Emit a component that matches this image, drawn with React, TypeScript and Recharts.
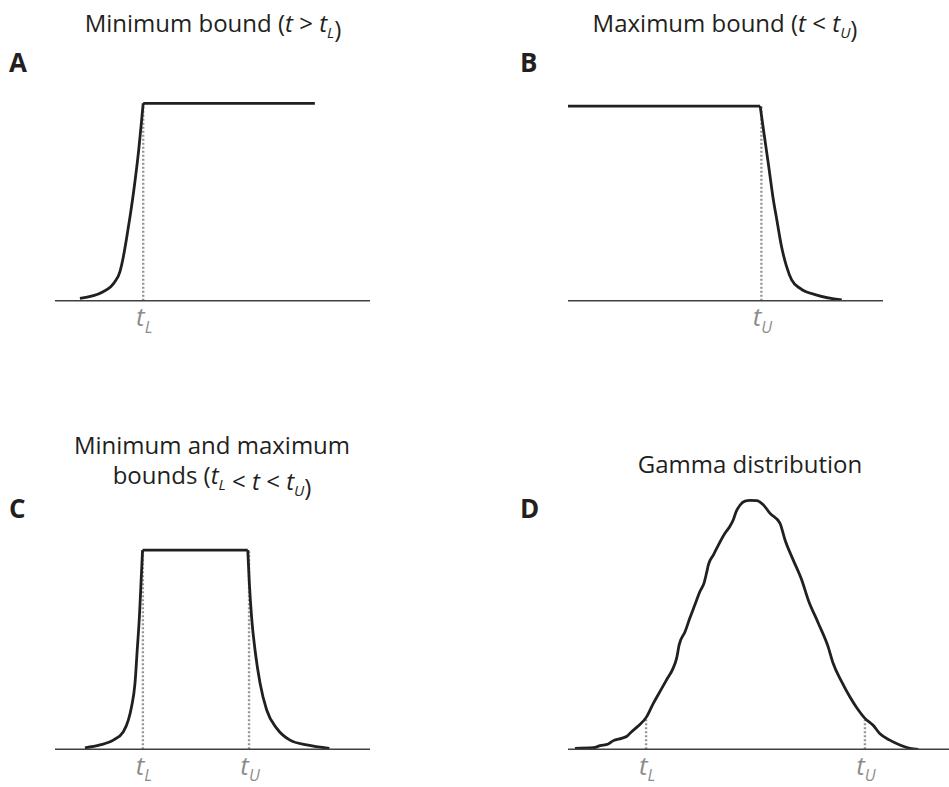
import { LineChart, Line, XAxis, YAxis } from 'recharts'

// A: minimum bound, curve rises to a plateau at t_L
const aRiseT = [7.9, 15.3, 19.0, 20.6, 21.7, 22.8, 23.9, 25.0, 26.4, 28.0]
const aRiseP = [0.9, 3.5, 7.4, 11.3, 17.2, 25.0, 33.5, 43.0, 57.0, 77.2]
const aFlatT = [28.0, 82.5]
const aFlatP = [77.2, 77.2]
const aBoundT = [28.0]
const aBoundP = [77.2]

// B: maximum bound, plateau falls off after t_U
const bFlatT = [0, 61.0]
const bFlatP = [76.1, 76.1]
const bFallT = [61.0, 62.2, 63.7, 65.2, 66.3, 67.8, 69.4, 71.0, 73.7, 79.0, 86.9]
const bFallP = [76.1, 65.6, 52.7, 39.4, 31.6, 21.1, 13.3, 8.1, 4.8, 2.2, 0.3]
const bBoundT = [61.4]
const bBoundP = [76.1]

// C: both bounds
const cRiseT = [9.5, 14.3, 18.5, 21.7, 23.3, 24.3, 25.4, 26.1, 26.8, 27.3, 27.8]
const cRiseP = [0.6, 1.7, 3.6, 6.9, 11.5, 16.7, 25.9, 38.9, 52.0, 65.0, 78.0]
const cFlatT = [27.8, 61.2]
const cFlatP = [78.0, 78.0]
const cFallT = [61.2, 61.7, 62.4, 63.5, 65.1, 67.2, 70.4, 74.6, 79.9, 87.1]
const cFallP = [78.0, 65.0, 52.0, 38.9, 25.9, 15.4, 8.2, 3.6, 1.7, 0.4]
const cBoundT = [27.9, 61.6]
const cBoundP = [78.0, 78.0]

// D: gamma distribution
const dT = [
  2.2, 8.0, 10.2, 12.8, 14.4, 17.0, 18.6, 20.2, 22.3, 25.0, 27.1, 29.2, 31.3, 33.4, 34.5,
  35.3, 37.2, 38.7, 40.3, 41.9, 43.2, 44.1, 44.6, 46.2, 47.8, 49.9, 51.4, 52.5, 53.4, 54.6,
  56.2, 57.8, 59.9, 62.0, 64.1, 67.3, 68.9, 71.5, 74.2, 76.3, 79.5, 82.6, 84.2, 86.9, 89.5,
  92.2, 94.3, 96.9, 99.0, 102.2, 105.4, 108.6, 111.3,
]
const dP = [
  0.4, 0.6, 1.4, 2.1, 3.4, 4.3, 5.0, 6.9, 9.1, 12.8, 18.0, 22.6, 27.2, 31.8, 35.7,
  40.9, 46.1, 51.4, 56.6, 61.8, 65.1, 69.6, 72.3, 76.2, 80.1, 84.7, 87.3, 89.9, 93.1, 95.6,
  97.2, 97.5, 97.4, 95.8, 92.5, 88.6, 82.1, 74.2, 66.4, 58.5, 49.4, 40.2, 33.7, 26.5, 20.6,
  15.4, 12.1, 9.4, 6.2, 3.6, 1.7, 0.4, 0.0,
]
const dBoundT = [24.8, 94.3]
const dBoundP = [12.3, 11.5]

const boundNames: Record<string, string> = {
  '28': 'L', '61.4': 'U', '27.9': 'L', '61.6': 'U', '24.8': 'L', '94.3': 'U',
}

const INK = '#231f20'
const AXIS = '#404040'
const DOTS = '#959595'
const FONT = '"Open Sans", sans-serif'

type Segment = { t: number[]; p: number[]; curve: 'monotone' | 'linear' }

const toPoints = (t: number[], p: number[]) => t.map((v, i) => ({ t: v, p: p[i] }))

function BoundTick(props: any) {
  const { x, y, payload } = props
  const sub = boundNames[String(payload.value)] ?? ''
  return (
    <text x={x + 1} y={y + 17.5} textAnchor="middle" fill="#8c8c8c" fontFamily={FONT} fontStyle="italic">
      <tspan fontSize={26}>t</tspan>
      <tspan fontSize={16} dy={6.5}>{sub}</tspan>
    </text>
  )
}

interface PanelProps {
  left: number
  top: number
  width: number
  height: number
  axisHeight: number
  marginLeft: number
  marginRight: number
  tMax: number
  segments: Segment[]
  boundT: number[]
  boundP: number[]
}

function Panel({ left, top, width, height, axisHeight, marginLeft, marginRight, tMax, segments, boundT, boundP }: PanelProps) {
  return (
    <div style={{ position: 'absolute', left, top }}>
      <LineChart width={width} height={height} margin={{ top: 45, left: marginLeft, right: marginRight, bottom: 0 }}>
        <XAxis
          type="number"
          dataKey="t"
          domain={[0, tMax]}
          ticks={boundT}
          interval={0}
          tick={(p: any) => <BoundTick {...p} />}
          tickLine={false}
          axisLine={{ stroke: AXIS, strokeWidth: 1.6 }}
          height={axisHeight}
          allowDataOverflow
        />
        <YAxis
          type="number"
          dataKey="p"
          domain={[0, 100]}
          width={0}
          tick={false}
          tickLine={false}
          axisLine={{ stroke: AXIS, strokeWidth: 1.6 }}
          allowDataOverflow
        />
        {/* dotted drop lines at the bounds, drawn under the curve */}
        {boundT.map((b, i) => (
          <Line
            key={`b${i}`}
            data={toPoints([b, b], [0, boundP[i]])}
            dataKey="p"
            type="linear"
            stroke={DOTS}
            strokeWidth={2.4}
            strokeDasharray="2 2"
            dot={false}
            activeDot={false}
            isAnimationActive={false}
          />
        ))}
        {segments.map((s, i) => (
          <Line
            key={`s${i}`}
            data={toPoints(s.t, s.p)}
            dataKey="p"
            type={s.curve}
            stroke={INK}
            strokeWidth={2.8}
            dot={false}
            activeDot={false}
            isAnimationActive={false}
          />
        ))}
      </LineChart>
    </div>
  )
}

function Sub({ children }: { children: string }) {
  return (
    <>
      <tspan fontStyle="italic">t</tspan>
      <tspan fontStyle="italic" fontSize={15} dy={6}>{children}</tspan>
      <tspan dy={-6}>{''}</tspan>
    </>
  )
}

function Labels() {
  const title = { fontFamily: FONT, fontSize: 24, fill: INK, textAnchor: 'middle' as const }
  const letter = { fontFamily: FONT, fontSize: 26, fontWeight: 700, fill: INK }
  return (
    <svg width={949} height={787} style={{ position: 'absolute', left: 0, top: 0, pointerEvents: 'none' }}>
      <text x={213} y={31.7} {...title}>
        Minimum bound (<tspan fontStyle="italic">t</tspan> &gt; <Sub>L</Sub>)
      </text>
      <text x={725} y={31.7} {...title}>
        Maximum bound (<tspan fontStyle="italic">t</tspan> &lt; <Sub>U</Sub>)
      </text>
      <text x={212} y={454} {...title}>Minimum and maximum</text>
      <text x={212} y={483.5} {...title}>
        bounds (<Sub>L</Sub> &lt; <tspan fontStyle="italic">t</tspan> &lt; <Sub>U</Sub>)
      </text>
      <text x={750} y={473.3} {...title}>Gamma distribution</text>

      <text x={9} y={72} {...letter}>A</text>
      <text x={520} y={72} {...letter}>B</text>
      <text x={9} y={518} {...letter}>C</text>
      <text x={520} y={518} {...letter}>D</text>
    </svg>
  )
}

export default function App() {
  return (
    <div style={{ position: 'absolute', left: 0, top: 0, width: 949, height: 787, background: '#fff', overflow: 'hidden' }}>
      <Panel
        left={0} top={0} width={380} height={345} axisHeight={44.3} marginLeft={55} marginRight={10} tMax={100}
        segments={[
          { t: aRiseT, p: aRiseP, curve: 'monotone' },
          { t: aFlatT, p: aFlatP, curve: 'linear' },
        ]}
        boundT={aBoundT} boundP={aBoundP}
      />
      <Panel
        left={470} top={0} width={420} height={345} axisHeight={44.3} marginLeft={98} marginRight={7} tMax={100}
        segments={[
          { t: bFlatT, p: bFlatP, curve: 'linear' },
          { t: bFallT, p: bFallP, curve: 'monotone' },
        ]}
        boundT={bBoundT} boundP={bBoundP}
      />
      <Panel
        left={0} top={449} width={380} height={338} axisHeight={37.7} marginLeft={55} marginRight={10} tMax={100}
        segments={[
          { t: cRiseT, p: cRiseP, curve: 'monotone' },
          { t: cFlatT, p: cFlatP, curve: 'linear' },
          { t: cFallT, p: cFallP, curve: 'monotone' },
        ]}
        boundT={cBoundT} boundP={cBoundP}
      />
      <Panel
        left={470} top={449} width={479} height={338} axisHeight={37.7} marginLeft={98} marginRight={0} tMax={121}
        segments={[{ t: dT, p: dP, curve: 'monotone' }]}
        boundT={dBoundT} boundP={dBoundP}
      />
      <Labels />
    </div>
  )
}
